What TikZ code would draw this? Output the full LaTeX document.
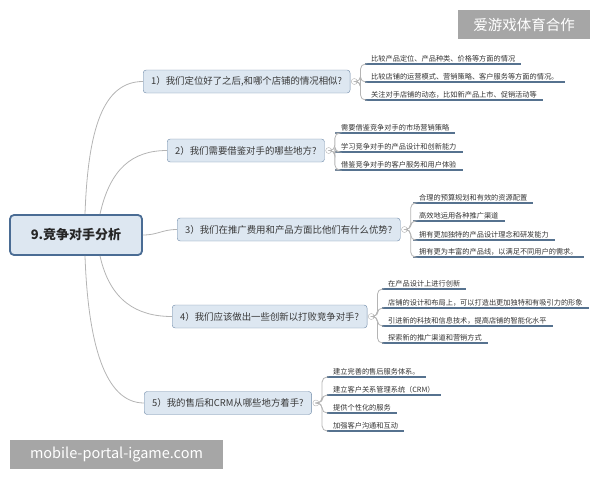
\documentclass[tikz,border=0pt]{standalone}
\usepackage{fontspec}
\setmainfont{Noto Sans CJK SC}
\usepackage{xcolor}
\usepackage{tikz}
\usetikzlibrary{positioning}
\definecolor{boxfill}{HTML}{DDE7F1}
\definecolor{boxline}{HTML}{6F8AA8}
\definecolor{rootline}{HTML}{4A6C94}
\definecolor{uline}{HTML}{56728F}
\definecolor{wire}{HTML}{B4B4B4}
\definecolor{wmark}{HTML}{A6A6A6}

\begin{document}
\begin{tikzpicture}[x=1pt, y=-1pt,
  root/.style={draw=rootline, line width=1.8pt, fill=boxfill, rounded corners=4pt,
               minimum width=132pt, minimum height=40pt, text=black!85,
               font={\fontsize{13}{15}\selectfont\bfseries}},
  br/.style={draw=boxline, fill=boxfill, rounded corners=3pt, anchor=west,
             minimum height=23pt, inner xsep=8pt, text=black!78,
             font={\fontsize{9.4}{11}\selectfont}},
  knob/.style={circle, draw=wire, fill=white, minimum size=6pt, inner sep=0pt},
  leaf/.style={anchor=south west, inner xsep=6pt, inner ysep=1.6pt, text=black!80,
               font={\fontsize{7.2}{9}\selectfont},
               append after command={(\tikzlastnode.south west) edge[ul] (\tikzlastnode.south east)}},
  ul/.style={draw=uline, line width=1.1pt},
  wire/.style={draw=wire, line width=0.8pt},
  twig/.style={draw=wire, line width=0.8pt, rounded corners=5pt},
  wm/.style={fill=wmark, text=white, inner sep=0pt, font={\fontsize{14.5}{16}\selectfont}}]
\useasboundingbox (0,0) rectangle (600,480);

\node[root] (r) at (76,235) {9.竞争对手分析};

\node[br] (b1) at (143,81.5)  {1）我们定位好了之后,和哪个店铺的情况相似?};
\node[br] (b2) at (167,150.5) {2）我们需要借鉴对手的哪些地方?};
\node[br] (b3) at (177,229.5) {3）我们在推广费用和产品方面比他们有什么优势?};
\node[br] (b4) at (172,316.5) {4）我们应该做出一些创新以打败竞争对手?};
\node[br] (b5) at (144,403)   {5）我的售后和CRM从哪些地方着手?};

\draw[wire] ([xshift=9pt]r.north) .. controls +(3,-85) and +(-40,0) .. (b1.west);
\draw[wire] ([xshift=24pt]r.north) .. controls +(10,-45) and +(-35,0) .. (b2.west);
\draw[wire] (r.east) .. controls +(15,0) and +(-15,0) .. (b3.west);
\draw[wire] ([xshift=24pt]r.south) .. controls +(10,45) and +(-35,0) .. (b4.west);
\draw[wire] ([xshift=9pt]r.south) .. controls +(3,85) and +(-40,0) .. (b5.west);

\node[leaf] (l11) at (365,64)  {比较产品定位、产品种类、价格等方面的情况};
\node[leaf] (l12) at (365,82)  {比较店铺的运营模式、营销策略、客户服务等方面的情况。};
\node[leaf] (l13) at (365,100) {关注对手店铺的动态，比如新产品上市、促销活动等};

\node[leaf] (l21) at (335,133) {需要借鉴竞争对手的市场营销策略};
\node[leaf] (l22) at (335,152) {学习竞争对手的产品设计和创新能力};
\node[leaf] (l23) at (335,170) {借鉴竞争对手的客户服务和用户体验};

\node[leaf] (l31) at (413,203) {合理的预算规划和有效的资源配置};
\node[leaf] (l32) at (413,221) {高效地运用各种推广渠道};
\node[leaf] (l33) at (413,240) {拥有更加独特的产品设计理念和研发能力};
\node[leaf] (l34) at (413,257) {拥有更为丰富的产品线，以满足不同用户的需求。};

\node[leaf] (l41) at (382,289) {在产品设计上进行创新};
\node[leaf] (l42) at (382,308) {店铺的设计和布局上，可以打造出更加独特和有吸引力的形象};
\node[leaf] (l43) at (382,326) {引进新的科技和信息技术，提高店铺的智能化水平};
\node[leaf] (l44) at (382,343) {探索新的推广渠道和营销方式};

\node[leaf] (l51) at (327,377) {建立完善的售后服务体系。};
\node[leaf] (l52) at (327,395) {建立客户关系管理系统（CRM）};
\node[leaf] (l53) at (327,413) {提供个性化的服务};
\node[leaf] (l54) at (327,431) {加强客户沟通和互动};

\foreach \b/\n in {1/3,2/3,3/4,4/4,5/4}{
  \node[knob] (k\b) at ([xshift=4pt]b\b.east) {};
  \foreach \i in {1,...,\n}
    \draw[twig] (k\b.east) -- ++(3,0) |- (l\b\i.south west);
}

\node[wm, minimum width=132pt, minimum height=29pt] (wm1) at (524,24.5) {爱游戏体育合作};
\node[wm, minimum width=213pt, minimum height=29pt] (wm2) at (116.5,454.5) {mobile-portal-igame.com};
\end{tikzpicture}
\end{document}
